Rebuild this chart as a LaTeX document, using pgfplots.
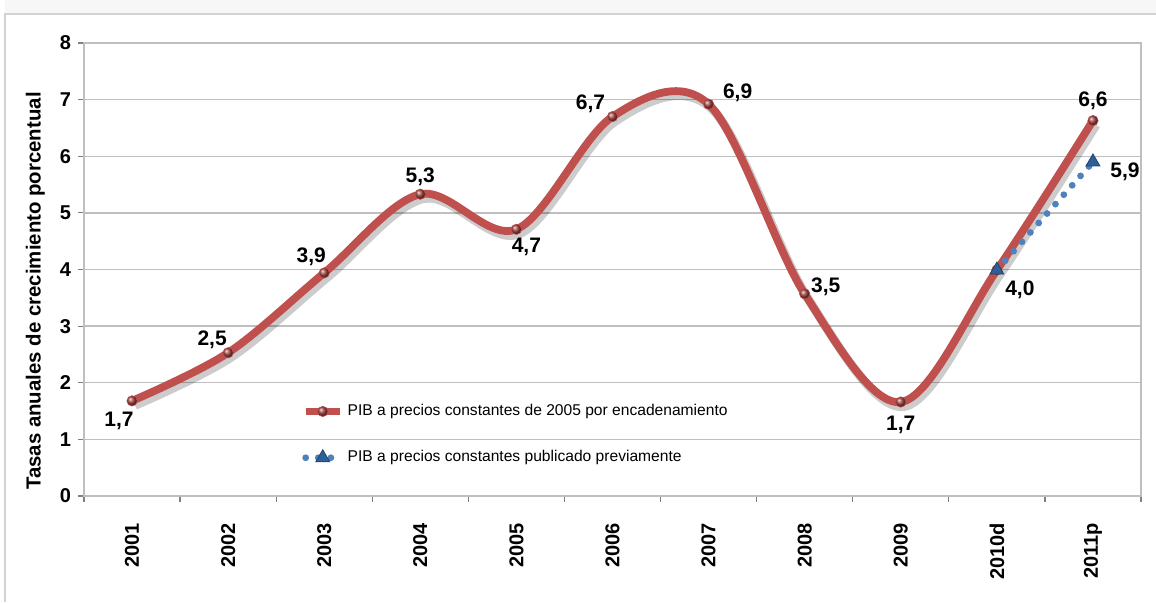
\documentclass[border=0pt]{standalone}
\usepackage{pgfplots}
\pgfplotsset{compat=1.18}
\usepackage{fontspec}
\setmainfont{Liberation Sans}
\definecolor{exred}{HTML}{C0504D}
\definecolor{exblue}{HTML}{4F81BD}
\definecolor{trib}{HTML}{2F5F98}
\definecolor{gridc}{HTML}{BFBFBF}
\begin{document}
\begin{tikzpicture}
\path[use as bounding box] (0,0) rectangle (578pt,301pt);
\fill[gray!6] (2.5pt,294pt) rectangle (578pt,301pt);
\draw[gray!35, line width=0.8pt] (2.5pt,0) -- (2.5pt,294pt) -- (578pt,294pt);
\begin{axis}[
  at={(42pt,53pt)}, anchor=south west,
  scale only axis, width=528.5pt, height=226.5pt,
  xmin=-0.5, xmax=10.5, ymin=0, ymax=8,
  xtick={0,...,10},
  xticklabels={2001,2002,2003,2004,2005,2006,2007,2008,2009,2010d,2011p},
  minor xtick={-0.5,0.5,...,10.5},
  major x tick style={draw=none},
  minor tick length=3pt,
  ytick={0,...,8},
  major tick length=3pt,
  tick align=outside, tick pos=left,
  tick style={gray, line width=0.6pt},
  axis line style={gridc, line width=0.8pt},
  ymajorgrids, grid style={gridc, line width=0.7pt},
  xticklabel style={rotate=90, anchor=east, font=\fontsize{10}{12}\selectfont\bfseries},
  xticklabel shift=7pt,
  yticklabel style={font=\fontsize{10}{12}\selectfont\bfseries},
  /pgf/number format/assume math mode=true,
  ylabel={Tasas anuales de crecimiento porcentual},
  ylabel style={font=\fontsize{10.2}{12}\selectfont\bfseries, at={(axis description cs:-0.046,0.4525)}, anchor=center},
  legend style={at={(0.2,0.221)}, anchor=north west, draw=none, fill=none,
    font=\fontsize{7.8}{9}\selectfont, row sep=12pt, legend cell align=left},
]
% shadow
\addplot[forget plot, black, opacity=0.2, line width=4.5pt, smooth, tension=0.55, shift={(1.5pt,-2.2pt)}]
 coordinates {(0,1.68) (1,2.53) (2,3.94) (3,5.33) (4,4.71) (5,6.70) (6,6.92) (7,3.57) (8,1.66) (9,3.99) (10,6.63)};
\addplot[exred, line width=3.9pt, smooth, tension=0.55, mark=ball, mark size=2.6pt,
  mark options={ball color=exred!85!black, line width=0.3pt}]
 coordinates {(0,1.68) (1,2.53) (2,3.94) (3,5.33) (4,4.71) (5,6.70) (6,6.92) (7,3.57) (8,1.66) (9,3.99) (10,6.63)};
\addlegendentry{PIB a precios constantes de 2005 por encadenamiento}
\addplot[exblue, line width=3.4pt, line cap=round, dash pattern=on 0pt off 6.3pt, mark=triangle*, mark size=4pt,
  mark options={solid, fill=trib, draw=trib!70!black, line width=0.4pt}]
 coordinates {(9,3.99) (10,5.9)};
\addlegendentry{PIB a precios constantes publicado previamente}
\begin{scope}[every node/.style={font=\fontsize{10.5}{12}\selectfont\bfseries}]
\node at (axis cs:0,1.68) [xshift=-6.5pt, yshift=-10pt] {1,7};
\node at (axis cs:1,2.53) [xshift=-8pt, yshift=6.5pt] {2,5};
\node at (axis cs:2,3.94) [xshift=-6.5pt, yshift=8pt] {3,9};
\node at (axis cs:3,5.33) [yshift=8.5pt] {5,3};
\node at (axis cs:4,4.71) [xshift=5pt, yshift=-9pt] {4,7};
\node at (axis cs:5,6.70) [xshift=-11pt, yshift=6.5pt] {6,7};
\node at (axis cs:6,6.92) [xshift=14.5pt, yshift=5.5pt] {6,9};
\node at (axis cs:7,3.57) [xshift=10.5pt, yshift=3.5pt] {3,5};
\node at (axis cs:8,1.66) [yshift=-11.5pt] {1,7};
\node at (axis cs:9,3.99) [xshift=11.5pt, yshift=-10pt] {4,0};
\node at (axis cs:10,6.63) [yshift=10pt] {6,6};
\node at (axis cs:10,5.9) [xshift=16pt, yshift=-5pt] {5,9};
\end{scope}
\end{axis}
\end{tikzpicture}
\end{document}
